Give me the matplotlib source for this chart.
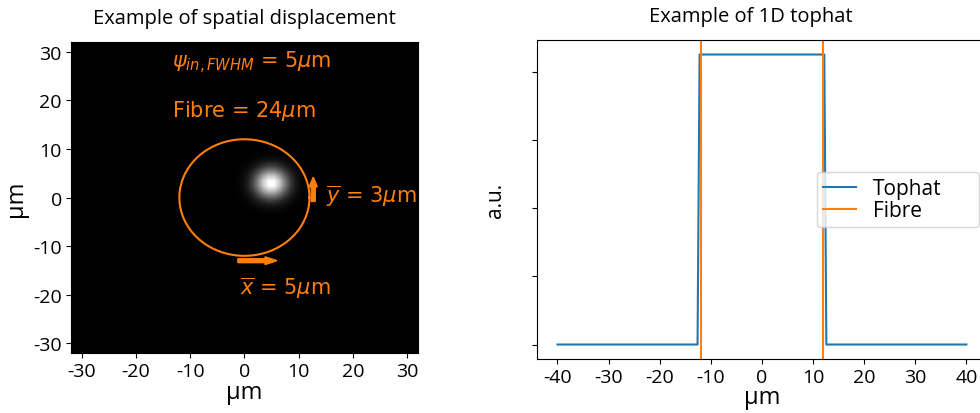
import numpy as np
import matplotlib
matplotlib.use("Agg")
import matplotlib.pyplot as plt

plt.rcParams['font.family'] = ['Open Sans', 'DejaVu Sans']
plt.rcParams['axes.unicode_minus'] = False
plt.rcParams['mathtext.fontset'] = 'dejavusans'

# Beam / fibre parameters
beam_fwhm = 5.0          # µm
beam_offset_x = 5.0      # µm
beam_offset_y = 3.0      # µm
fibre_diameter = 24.0    # µm
field_half_width = 32.0  # µm
grid_points = 64

# 1D tophat profile
tophat_x = [-40, -12.6, -12.2, 12.2, 12.6, 40]
tophat_y = [0.0, 0.0, 0.85, 0.85, 0.0, 0.0]
fibre_edges = [-12, 12]

orange = '#ff7f0e'
blue = '#1f77b4'

fig = plt.figure(figsize=(9.8, 4.14), dpi=100)

# ---- left: spatially displaced gaussian beam inside the fibre core ----
ax1 = fig.add_axes([0.0724, 0.1449, 0.354, 0.751])
xs = np.linspace(-field_half_width, field_half_width, grid_points)
X, Y = np.meshgrid(xs, xs)
sigma = beam_fwhm / (2 * np.sqrt(2 * np.log(2)))
beam = np.exp(-((X - beam_offset_x) ** 2 + (Y - beam_offset_y) ** 2) / (2 * sigma ** 2))
ax1.imshow(beam, cmap='gray', origin='lower', aspect='auto', interpolation='bilinear',
           extent=[-field_half_width, field_half_width, -field_half_width, field_half_width])

theta = np.linspace(0, 2 * np.pi, 400)
r = fibre_diameter / 2
ax1.plot(r * np.cos(theta), r * np.sin(theta), color=orange, lw=1.5)

ax1.arrow(-1.2, -13, beam_offset_x, 0, width=0.8, head_width=1.6, head_length=2.2,
          color=orange, length_includes_head=False)
ax1.arrow(12.7, -0.8, 0, beam_offset_y, width=0.75, head_width=1.5, head_length=2.0,
          color=orange, length_includes_head=False)

tkw = dict(color=orange, fontsize=15, family='DejaVu Sans', va='center')
ax1.text(-13.3, 28, r'$\psi_{in,FWHM}$ = %g$\mu$m' % beam_fwhm, **tkw)
ax1.text(-13.3, 18.1, r'Fibre = %g$\mu$m' % fibre_diameter, **tkw)
ax1.text(15, 0.5, r'$\overline{y}$ = %g$\mu$m' % beam_offset_y, **tkw)
ax1.text(-0.9, -18.6, r'$\overline{x}$ = %g$\mu$m' % beam_offset_x, **tkw)

ax1.set_xlim(-field_half_width, field_half_width)
ax1.set_ylim(-field_half_width, field_half_width)
ax1.set_xticks(np.arange(-30, 31, 10))
ax1.set_yticks(np.arange(-30, 31, 10))
ax1.tick_params(labelsize=14, pad=3)
ax1.set_xlabel('µm', fontsize=17, labelpad=0)
ax1.set_ylabel('µm', fontsize=17, labelpad=4)
ax1.set_title('Example of spatial displacement', fontsize=14.5, pad=14)

# ---- right: 1D tophat with the fibre edges ----
ax2 = fig.add_axes([0.548, 0.1304, 0.459, 0.7705])
ax2.plot(tophat_x, tophat_y, color=blue, lw=1.5, label='Tophat')
ax2.axvline(fibre_edges[0], color=orange, lw=1.5, label='Fibre')
ax2.axvline(fibre_edges[1], color=orange, lw=1.5)
ax2.set_xticks(np.arange(-40, 41, 10))
ax2.set_yticks([0.0, 0.2, 0.4, 0.6, 0.8])
ax2.set_yticklabels([])
ax2.tick_params(labelsize=14, pad=3)
ax2.set_xlabel('µm', fontsize=17, labelpad=-1)
ax2.set_ylabel('a.u.', fontsize=15, labelpad=16)
ax2.set_title('Example of 1D tophat', fontsize=14.5, pad=14, x=0.476)
ax2.legend(loc='center left', bbox_to_anchor=(0.622, 0.3, 0.36, 0.4), mode='expand',
           fontsize=15, handlelength=1.6, handletextpad=0.8, labelspacing=0.05,
           borderpad=0.3, borderaxespad=0.0)

fig.savefig('out.png', dpi=100)
